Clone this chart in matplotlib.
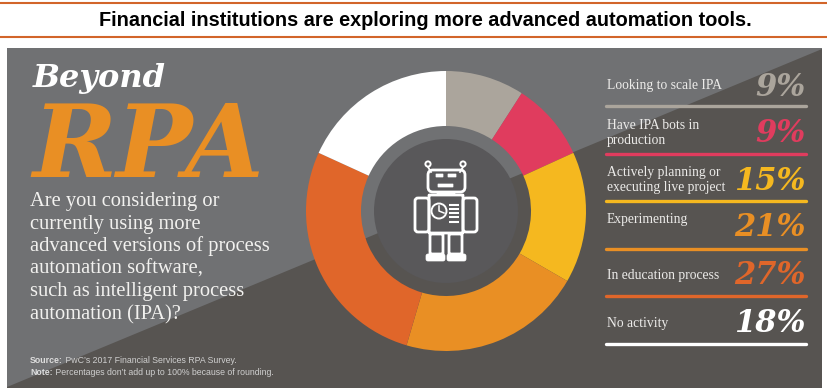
import matplotlib
matplotlib.use("Agg")
import matplotlib.pyplot as plt
from matplotlib.patches import Circle, FancyBboxPatch, Polygon, Rectangle

TITLE = "Financial institutions are exploring more advanced automation tools."
labels = ["Looking to scale IPA", "Have IPA bots in\nproduction", "Actively planning or\nexecuting live project",
          "Experimenting", "In education process", "No activity"]
values = [9, 9, 15, 21, 27, 18]
question = ["Are you considering or", "currently using more", "advanced versions of process",
            "automation software,", "such as intelligent process", "automation (IPA)?"]

COLORS = ["#aba59c", "#e03c5e", "#f5b81f", "#e98f24", "#e0662a", "#ffffff"]
LIGHT, DARK = "#707173", "#575451"
SERIF, SANS, HEAVY = "Liberation Serif", "Liberation Sans", "DejaVu Serif"
H = 390

# layout in image pixels (y measured from the top)
RULE_Y = [106, 154, 201, 249, 296, 344]
LABEL_Y = [85, 133, 180, 220, 275, 323]
PCT_Y = [88, 133, 181, 228, 275, 323]
QUESTION_Y = [206, 229, 251, 274, 296, 319]
CX, CY = 446, 211

fig = plt.figure(figsize=(8.27, 3.9), dpi=100)
ax = fig.add_axes([0, 0, 1, 1])


def Y(y):
    return H - y


# ── Donut ────────────────────────────────────────────────────────────────────
ax.pie(values, colors=COLORS, startangle=90, counterclock=False, radius=140, center=(CX, Y(CY)),
       frame=True, wedgeprops=dict(width=55, linewidth=0, zorder=2))
ax.set_xlim(0, 827)
ax.set_ylim(0, H)
ax.set_aspect("auto")
ax.axis("off")
ax.add_patch(Circle((CX, Y(CY)), 72, fc="#59585a", ec="none", zorder=3))

# ── Header ───────────────────────────────────────────────────────────────────
ax.plot([0, 827], [Y(3), Y(3)], color="#d2652a", lw=1.5, solid_capstyle="butt")
ax.plot([0, 827], [Y(37), Y(37)], color="#d2652a", lw=1.5, solid_capstyle="butt")
ax.text(425, Y(21), TITLE, family=SANS, weight="bold", fontsize=14.35, color="black", ha="center", va="center")

# ── Background panel with diagonal ───────────────────────────────────────────
ax.add_patch(Rectangle((7, Y(388)), 815, 340, fc=DARK, ec="none", zorder=1))
ax.add_patch(Polygon([(7, Y(387)), (7, Y(48)), (822, Y(48)), (822, Y(49))], fc=LIGHT, ec="none", zorder=1))


# ── Robot icon ───────────────────────────────────────────────────────────────
def box(x0, y0, x1, y1, fc="none", lw=2.0, r=2):
    ax.add_patch(FancyBboxPatch((x0, Y(y1)), x1 - x0, y1 - y0, boxstyle=f"round,pad=0,rounding_size={r}",
                                fc=fc, ec="white", lw=lw, zorder=5))


for x0, x1, f0, f1 in [(429, 444, 426, 445), (448, 463, 447, 466)]:
    box(x0 + 1, 234, x1 - 1, 254, r=0.5)
    box(f0, 254, f1, 261, fc="white", lw=0.5, r=2)
box(429, 195, 463, 233, r=0.5)
box(415, 198, 429, 232, r=3)
box(463, 198, 477, 232, r=3)
box(428, 170, 465, 192, r=5)
box(437, 192, 455, 195, fc="white", lw=0.5, r=0.3)
box(436, 174, 443, 177, fc="white", lw=0.5, r=0.2)
box(448, 174, 456, 177, fc="white", lw=0.5, r=0.2)
box(438, 184, 453, 187, fc="white", lw=0.5, r=0.2)
for x, x2 in [(428, 431), (463, 460)]:
    ax.plot([x, x2], [Y(167), Y(172)], color="white", lw=1.3, zorder=5)
    ax.add_patch(Circle((x, Y(164)), 2.6, fc="none", ec="white", lw=1.4, zorder=5))
ax.add_patch(Circle((439, Y(211)), 7.5, fc="none", ec="white", lw=1.4, zorder=5))
ax.plot([439, 439, 444], [Y(206), Y(211), Y(213)], color="white", lw=1.1, zorder=5)
for y in [205, 209, 213, 217, 222]:
    ax.plot([449, 459], [Y(y), Y(y)], color="white", lw=1.5, solid_capstyle="butt", zorder=5)

# ── Left text ────────────────────────────────────────────────────────────────
ax.text(33, Y(87), "Beyond", family=HEAVY, weight="bold", style="italic", fontsize=23, color="white",
        ha="left", va="baseline", zorder=6)
ax.text(32, Y(177), "RPA", family=HEAVY, weight="bold", style="italic", fontsize=73, color="#e98f24",
        ha="left", va="baseline", zorder=6)
for line, y in zip(question, QUESTION_Y):
    ax.text(30, Y(y), line, family=SERIF, fontsize=14.8, color="#f2f1ef", ha="left", va="baseline", zorder=6)

renderer = fig.canvas.get_renderer()
for head, rest, y in [("Source:", " PwC’s 2017 Financial Services RPA Survey.", 363),
                      ("Note:", " Percentages don’t add up to 100% because of rounding.", 375)]:
    t = ax.text(30, Y(y), head, family=SANS, weight="bold", fontsize=6.3, color="#dddddd", ha="left", va="baseline", zorder=6)
    ax.text(t.get_window_extent(renderer).x1, Y(y), rest, family=SANS, fontsize=6.3, color="#cfcfcf",
            ha="left", va="baseline", zorder=6)

# ── Right legend ─────────────────────────────────────────────────────────────
for label, val, col, ry, ly, py in zip(labels, values, COLORS, RULE_Y, LABEL_Y, PCT_Y):
    ax.plot([606, 806], [Y(ry), Y(ry)], color=col, lw=2.4, solid_capstyle="round", zorder=6)
    ax.text(607, Y(ly), label, family=SERIF, fontsize=9.8, linespacing=1.15, color="#ecebe9", ha="left", va="center", zorder=6)
    ax.text(806, Y(py), f"{val}%", family=HEAVY, weight="bold", style="italic", fontsize=22, color=col,
            ha="right", va="center", zorder=6)

fig.savefig("out.png", dpi=100, facecolor="white")
